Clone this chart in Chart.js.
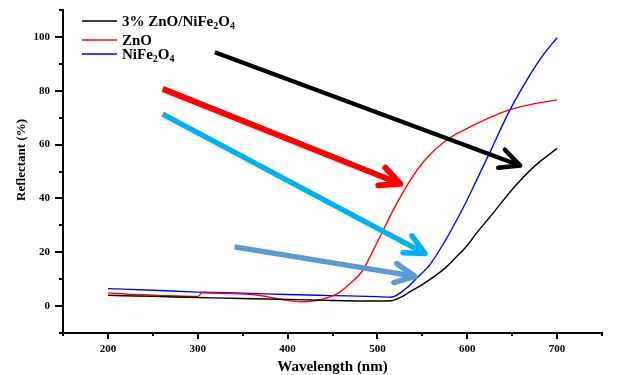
<!DOCTYPE html>
<html>
<head>
<meta charset="utf-8">
<script src="https://cdn.jsdelivr.net/npm/chart.js@4.4.1/dist/chart.umd.min.js"></script>
<style>
  body { margin: 0; background: #fff; }
  #wrap { width: 629px; height: 375px; }
</style>
</head>
<body>
<div id="wrap"><canvas id="chart"></canvas></div>
<script>
// values (wavelength in nm, reflectance in %)
const compositeWl = [200, 250, 300, 350, 400, 450, 500, 515, 530, 536, 550, 575, 588, 600, 610, 625, 651, 675, 700];
const compositeR = [4.0, 3.6, 3.2, 2.8, 2.5, 2.1, 1.9, 2.0, 4.0, 5.3, 8.0, 14.0, 18.3, 22.5, 27.0, 33.0, 43.7, 52.0, 58.6];

const znoWl = [200, 230, 260, 300, 305, 330, 365, 385, 400, 415, 430, 440, 455, 470, 484, 492, 503, 515, 528, 540, 555, 577, 600, 625, 647, 675, 700];
const znoR = [4.9, 4.3, 3.9, 3.6, 4.9, 4.7, 4.1, 3.0, 2.1, 1.6, 2.0, 2.7, 4.5, 8.5, 13.4, 18.5, 25.8, 34.0, 42.0, 48.5, 55.0, 61.7, 66.0, 70.0, 72.9, 75.2, 76.6];

const nifeWl = [200, 250, 300, 350, 400, 450, 500, 515, 532, 545, 558, 575, 588, 600, 610, 625, 647, 670, 685, 700];
const nifeR = [6.5, 5.9, 5.2, 4.8, 4.3, 3.9, 3.5, 3.3, 6.6, 10.8, 15.2, 24.0, 31.8, 39.5, 46.5, 57.0, 72.5, 86.0, 93.5, 99.7];

const seriesLabels = ['3% ZnO/NiFe_2O_4', 'ZnO', 'NiFe_2O_4'];

const xTickValues = [200, 300, 400, 500, 600, 700];
const yTickValues = [0, 20, 40, 60, 80, 100];

// arrows on the plot, tail and head in data units
const arrowTails = [[319, 94.3], [261, 80.7], [261, 71.3], [341, 22.0]];
const arrowHeads = [[662, 51.8], [528.5, 45.0], [556, 19.0], [545, 10.9]];

const arrowColors = ['#000000', '#ff0000', '#00b0f0', '#5b9bd5'];
const arrowWidths = [4.5, 6, 5.5, 5.5];
const lineColors = ['#000000', '#ff0000', '#0000ff'];
const serif = '"Liberation Serif", "Times New Roman", serif';

function toPoints(xs, ys) {
    return xs.map((x, i) => ({ x: x, y: ys[i] }));
}

// text with _n subscripts
function drawRich(ctx, text, x, y, size) {
    const parts = text.split(/(_\d)/).filter(p => p.length);
    parts.forEach(p => {
        if (p[0] === '_') {
            ctx.font = 'bold ' + Math.round(size * 0.65) + 'px ' + serif;
            ctx.fillText(p.slice(1), x, y + size * 0.3);
            x += ctx.measureText(p.slice(1)).width;
        } else {
            ctx.font = 'bold ' + size + 'px ' + serif;
            ctx.fillText(p, x, y);
            x += ctx.measureText(p).width;
        }
    });
}

const extras = {
    id: 'extras',
    afterDatasetsDraw(chart) {
        const { ctx, scales: { x, y } } = chart;
        ctx.save();
        arrowTails.forEach((t, i) => {
            const x0 = x.getPixelForValue(t[0]), y0 = y.getPixelForValue(t[1]);
            const x1 = x.getPixelForValue(arrowHeads[i][0]), y1 = y.getPixelForValue(arrowHeads[i][1]);
            const a = Math.atan2(y1 - y0, x1 - x0);
            const L = 22, s = 0.45;
            ctx.strokeStyle = arrowColors[i];
            ctx.lineWidth = arrowWidths[i];
            ctx.lineCap = 'butt';
            ctx.beginPath();
            ctx.moveTo(x0, y0);
            ctx.lineTo(x1 - 4 * Math.cos(a), y1 - 4 * Math.sin(a));
            ctx.stroke();
            ctx.lineCap = 'round';
            ctx.lineJoin = 'round';
            const tx = x1 - 3 * Math.cos(a), ty = y1 - 3 * Math.sin(a);
            ctx.beginPath();
            ctx.moveTo(tx - L * Math.cos(a - s), ty - L * Math.sin(a - s));
            ctx.lineTo(tx, ty);
            ctx.lineTo(tx - L * Math.cos(a + s), ty - L * Math.sin(a + s));
            ctx.stroke();
        });
        ctx.restore();
    },
    afterDraw(chart) {
        const { ctx, chartArea: area, scales: { x, y } } = chart;
        ctx.save();
        // tick marks, major and minor
        ctx.strokeStyle = '#000';
        ctx.lineWidth = 2;
        ctx.beginPath();
        for (let v = -10; v <= 110; v += 10) {
            const py = Math.round(y.getPixelForValue(v));
            const len = v % 20 === 0 ? 8 : 4;
            ctx.moveTo(area.left - len, py);
            ctx.lineTo(area.left, py);
        }
        for (let v = 150; v <= 750; v += 50) {
            const px = Math.round(x.getPixelForValue(v));
            const len = v % 100 === 0 ? 6 : 3;
            ctx.moveTo(px, area.bottom);
            ctx.lineTo(px, area.bottom + len);
        }
        ctx.stroke();

        // legend
        ctx.fillStyle = '#000';
        ctx.textBaseline = 'middle';
        const rows = [21, 40, 54];
        seriesLabels.forEach((lab, i) => {
            ctx.strokeStyle = lineColors[i];
            ctx.lineWidth = 1.5;
            ctx.beginPath();
            ctx.moveTo(area.left + 19, rows[i]);
            ctx.lineTo(area.left + 54, rows[i]);
            ctx.stroke();
            drawRich(ctx, lab, area.left + 59, rows[i] + 1, 15);
        });

        // axis titles
        ctx.textAlign = 'center';
        ctx.font = 'bold 15px ' + serif;
        ctx.fillText('Wavelength (nm)', (area.left + area.right) / 2, 367);
        ctx.translate(22, 160);
        ctx.rotate(-Math.PI / 2);
        ctx.font = 'bold 13px ' + serif;
        ctx.fillText('Reflectant (%)', 0, 0);
        ctx.restore();
    }
};

const datasets = [
    [compositeWl, compositeR],
    [znoWl, znoR],
    [nifeWl, nifeR]
].map((s, i) => ({
    label: seriesLabels[i].replace('_2', '\u2082').replace('_4', '\u2084'),
    data: toPoints(s[0], s[1]),
    borderColor: lineColors[i],
    borderWidth: 1.4,
    pointRadius: 0,
    fill: false,
    cubicInterpolationMode: 'monotone'
}));

new Chart(document.getElementById('chart'), {
    type: 'line',
    data: { datasets: datasets },
    plugins: [extras],
    options: {
        responsive: true,
        maintainAspectRatio: false,
        animation: false,
        layout: { padding: { top: 10, right: 27, left: 0, bottom: 0 } },
        plugins: {
            legend: { display: false },
            tooltip: { enabled: false }
        },
        scales: {
            x: {
                type: 'linear',
                min: 150,
                max: 750,
                afterBuildTicks: scale => { scale.ticks = xTickValues.map(v => ({ value: v })); },
                afterFit: scale => {
                    scale.height = 42;
                    scale.paddingLeft = 0;
                    scale.paddingRight = 0;
                },
                grid: { display: false, drawTicks: false },
                border: { display: true, color: '#000', width: 2 },
                ticks: {
                    padding: 10,
                    color: '#000',
                    maxRotation: 0,
                    font: { family: serif, size: 11, weight: 'bold' }
                }
            },
            y: {
                min: -10,
                max: 110,
                afterBuildTicks: scale => { scale.ticks = yTickValues.map(v => ({ value: v })); },
                afterFit: scale => {
                    scale.width = 63;
                    scale.paddingTop = 0;
                    scale.paddingBottom = 0;
                },
                grid: { display: false, drawTicks: false },
                border: { display: true, color: '#000', width: 2 },
                ticks: {
                    padding: 13,
                    color: '#000',
                    font: { family: serif, size: 11, weight: 'bold' }
                }
            }
        }
    }
});
</script>
</body>
</html>
